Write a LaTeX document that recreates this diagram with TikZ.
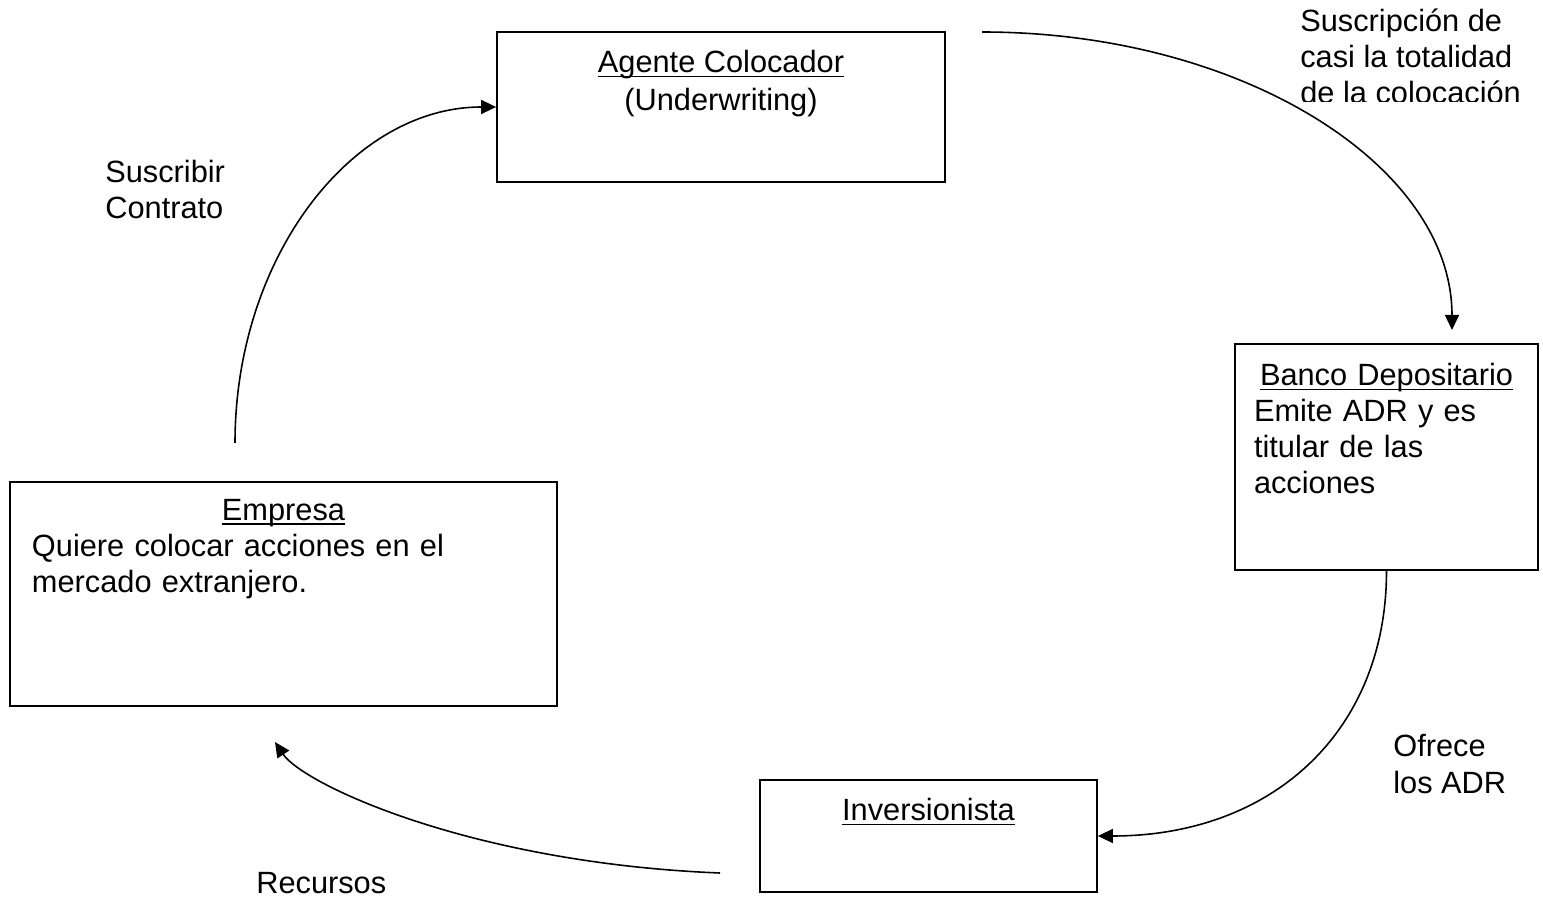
\documentclass[tikz,border=0pt]{standalone}
\usepackage{fontspec}
\setmainfont{Liberation Sans}
\usetikzlibrary{positioning, arrows.meta}
\newcommand{\titulo}[1]{\setbox0\hbox{#1}\rlap{\rule[-2.6pt]{\wd0}{1pt}}\box0}
\tikzset{
  box/.style={draw, line width=1pt, inner sep=0pt},
  txt/.style={inner sep=0pt, font=\fontsize{17.5}{20.5}\selectfont},
  flow/.style={line width=0.9pt},
  >={Triangle[length=3mm,width=2.8mm]},
}

\begin{document}
\begin{tikzpicture}[x=0.2mm, y=0.2mm]
    \useasboundingbox (0,0) rectangle (1543,897);
    \node[box, minimum width=89.6mm, minimum height=30mm] (agente) at (721,790) {};
    \node[box, minimum width=60.6mm, minimum height=45.2mm] (banco) at (1386.5,440) {};
    \node[box, minimum width=109.4mm, minimum height=44.8mm] (empresa) at (283.5,303) {};
    \node[box, minimum width=67.4mm, minimum height=22.4mm] (inversor) at (928.5,61) {};
    \node[txt, align=center, below=3.8mm of agente.north] (agente-t) {\titulo{Agente Colocador}\\[1pt](Underwriting)};
    \node[txt, align=left, text width=53mm, below=4mm of banco.north] (banco-t) {\makebox[\linewidth]{\titulo{Banco Depositario}}\\Emite ADR y es\\titular de las\\acciones};
    \node[txt, align=left, text width=100.6mm, below=3.6mm of empresa.north] (empresa-t) {\makebox[\linewidth]{\titulo{Empresa}}\\Quiere colocar acciones en el\\mercado extranjero.};
    \node[txt, below=3.8mm of inversor.north] (inversor-t) {\titulo{Inversionista}};
    \coordinate (s1) at (982,865);
    \coordinate (e1) at (1452,567);
    \coordinate (s3) at (720,24);
    \coordinate (e3) at (275,155);
    \coordinate (s4) at (235,454);
    \draw[flow, ->] (s1) .. controls +(259,0) and +(0,165) .. (e1);
    \draw[flow, ->] (banco.south) .. controls +(0,-160) and +(175,0) .. (inversor.east);
    \draw[flow, ->] (s3) .. controls +(-250,10) and +(28,-42) .. (e3);
    \draw[flow, ->] (s4) .. controls +(0,185) and +(-145,0) .. (agente.west);
    \node[txt, align=left, anchor=base west] (suscribir) at (105,678) {Suscribir\\Contrato};
    \begin{scope}
      \clip (1290,795.5) rectangle (1543,897);
      \node[txt, align=left, anchor=base west] (suscripcion) at (1300,793) {Suscripción de\\casi la totalidad\\de la colocación};
    \end{scope}
    \node[txt, align=left, anchor=base west] (ofrece) at (1393,104) {Ofrece\\los ADR};
    \node[txt, anchor=base west] (recursos) at (256,4) {Recursos};
  \end{tikzpicture}
\end{document}
